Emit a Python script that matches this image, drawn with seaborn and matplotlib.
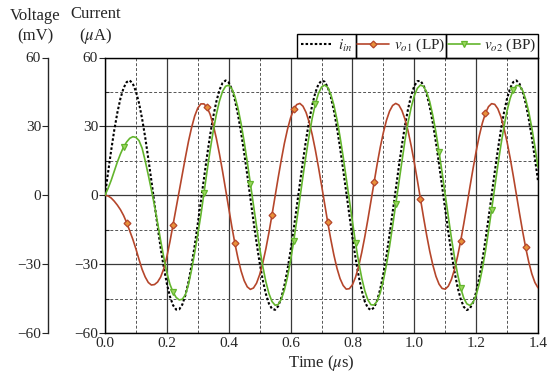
import numpy as np
import matplotlib
matplotlib.use("Agg")
import matplotlib.pyplot as plt
import seaborn as sns
from matplotlib.lines import Line2D
from matplotlib.patches import Rectangle
from matplotlib.ticker import FormatStrFormatter

# sample times (us), one every 0.01 us
time_us = np.linspace(0.0, 1.4, 141)

# input current (uA)
i_in = [0.0, 10.0, 19.6, 28.4, 36.0, 42.2, 46.7, 49.3, 50.0, 48.6,
        45.2, 40.1, 33.3, 25.2, 16.0, 6.3, -3.8, -13.6, -23.0, -31.4,
        -38.5, -44.1, -47.9, -49.8, -49.7, -47.6, -43.5, -37.7, -30.4, -21.9,
        -12.4, -2.5, 7.5, 17.2, 26.3, 34.2, 40.8, 45.8, 48.9, 50.0,
        49.1, 46.3, 41.5, 35.1, 27.3, 18.4, 8.8, -1.3, -11.2, -20.7,
        -29.4, -36.9, -42.9, -47.2, -49.5, -49.9, -48.3, -44.7, -39.3, -32.4,
        -24.1, -14.9, -5.0, 5.0, 14.9, 24.1, 32.4, 39.3, 44.7, 48.3,
        49.9, 49.5, 47.1, 42.9, 36.9, 29.4, 20.7, 11.2, 1.3, -8.8,
        -18.4, -27.3, -35.1, -41.5, -46.3, -49.1, -50.0, -48.9, -45.8, -40.8,
        -34.2, -26.3, -17.2, -7.5, 2.5, 12.4, 21.9, 30.4, 37.7, 43.5,
        47.6, 49.7, 49.8, 47.9, 44.1, 38.5, 31.4, 23.0, 13.6, 3.8,
        -6.3, -16.0, -25.2, -33.3, -40.1, -45.2, -48.6, -50.0, -49.3, -46.7,
        -42.2, -36.0, -28.4, -19.6, -10.0, 0.0, 10.0, 19.6, 28.4, 36.0,
        42.2, 46.7, 49.3, 50.0, 48.6, 45.2, 40.1, 33.3, 25.2, 16.0,
        6.3]

# low-pass output (mV)
v_o1 = [0.0, -0.3, -1.2, -2.6, -4.3, -6.3, -8.8, -11.9, -15.5, -19.2,
        -23.4, -28.0, -32.3, -35.6, -38.0, -39.1, -38.9, -37.8, -35.6, -32.0,
        -26.8, -20.2, -12.8, -5.3, 2.0, 9.2, 16.5, 23.5, 29.5, 34.5,
        38.0, 39.8, 39.8, 38.3, 35.2, 30.6, 24.8, 18.0, 10.5, 2.4,
        -5.7, -13.6, -21.0, -27.5, -33.0, -37.2, -39.9, -41.0, -40.4, -38.3,
        -34.6, -29.6, -23.4, -16.3, -8.5, -0.4, 7.7, 15.4, 22.6, 28.7,
        33.7, 37.4, 39.5, 40.0, 38.8, 36.1, 31.9, 26.4, 19.8, 12.4,
        4.5, -3.7, -11.7, -19.2, -26.0, -31.8, -36.3, -39.3, -40.9, -40.7,
        -39.0, -35.7, -31.0, -25.0, -18.1, -10.5, -2.4, 5.7, 13.6, 20.9,
        27.3, 32.6, 36.6, 39.1, 40.0, 39.3, 36.9, 33.1, 27.9, 21.5,
        14.3, 6.5, -1.6, -9.7, -17.4, -24.4, -30.4, -35.3, -38.7, -40.6,
        -40.9, -39.6, -36.7, -32.3, -26.6, -19.9, -12.4, -4.5, 3.7, 11.6,
        19.1, 25.8, 31.4, 35.7, 38.6, 39.9, 39.6, 37.7, 34.2, 29.3,
        23.2, 16.2, 8.5, 0.4, -7.7, -15.5, -22.7, -29.0, -34.2, -38.0,
        -40.3]

# band-pass output (mV)
v_o2 = [0.0, 3.0, 6.5, 10.5, 14.5, 18.0, 21.0, 23.2, 24.8, 25.5,
        25.2, 23.8, 20.5, 15.0, 8.8, 2.3, -4.5, -12.0, -19.8, -27.0,
        -33.8, -38.8, -42.2, -44.5, -45.6, -45.3, -43.3, -38.8, -32.4, -25.0,
        -17.0, -8.6, 1.0, 10.5, 19.7, 28.0, 35.2, 41.0, 45.2, 47.5,
        47.9, 46.4, 43.0, 37.9, 31.2, 23.3, 14.5, 5.1, -4.6, -14.0,
        -22.9, -30.9, -37.6, -42.8, -46.3, -47.9, -47.6, -45.3, -41.3, -35.6,
        -28.4, -20.1, -11.0, -1.4, 8.2, 17.4, 26.0, 33.6, 39.7, 44.3,
        47.1, 48.0, 47.0, 44.0, 39.3, 33.0, 25.4, 16.8, 7.4, -2.2,
        -11.7, -20.8, -29.0, -36.0, -41.6, -45.6, -47.7, -47.8, -46.1, -42.5,
        -37.1, -30.3, -22.3, -13.3, -3.9, 5.8, 15.2, 24.0, 31.8, 38.3,
        43.3, 46.6, 48.0, 47.4, 44.9, 40.7, 34.7, 27.4, 19.0, 9.8,
        0.2, -9.3, -18.6, -27.0, -34.4, -40.4, -44.8, -47.3, -48.0, -46.7,
        -43.5, -38.6, -32.1, -24.4, -15.6, -6.3, 3.4, 12.9, 21.8, 29.9,
        36.8, 42.2, 45.9, 47.8, 47.7, 45.7, 41.9, 36.4, 29.4, 21.2,
        12.2]

# samples that carry a marker
o1_marks = [7, 22, 33, 42, 54, 61, 72, 87, 102, 115, 123, 136]
o2_marks = [6, 22, 32, 47, 61, 68, 81, 94, 108, 115, 125, 132]

x_ticks = [0.0, 0.2, 0.4, 0.6, 0.8, 1.0, 1.2, 1.4]
y_ticks = [-60, -30, 0, 30, 60]
labels = ["$i_{in}$", "$v_{o1}$ (LP)", "$v_{o2}$ (BP)"]

RED = "#b5462b"
GREEN = "#63b52d"

sns.set_style("white")
plt.rcParams["font.family"] = ["Liberation Serif", "DejaVu Serif"]
plt.rcParams["mathtext.fontset"] = "stix"

fig = plt.figure(figsize=(5.5, 3.75), dpi=100)
ax = fig.add_axes([105 / 550, 1 - 333 / 375, 433 / 550, 275.5 / 375])

# curves
sns.lineplot(x=time_us, y=i_in, ax=ax, color="black", lw=1.5, linestyle=(0, (1.2, 1.0)), zorder=3)
sns.lineplot(x=time_us, y=v_o1, ax=ax, color=RED, lw=1.2, marker="D", markevery=o1_marks,
             ms=3.5, mfc="#e8913a", mec=RED, mew=0.9, zorder=4)
sns.lineplot(x=time_us, y=v_o2, ax=ax, color=GREEN, lw=1.2, marker="v", markevery=o2_marks,
             ms=5, mfc="#9ad85e", mec=GREEN, mew=0.9, zorder=5)

ax.set_xlim(0, 1.4)
ax.set_ylim(-60, 60)
ax.set_xticks(x_ticks)
ax.set_xticks(np.arange(0.1, 1.4, 0.2), minor=True)
ax.set_yticks(y_ticks)
ax.set_yticks([-45, -15, 15, 45], minor=True)
ax.xaxis.set_major_formatter(FormatStrFormatter("%.1f"))
ax.tick_params(axis="x", which="both", length=0, pad=3, labelsize=11)
ax.tick_params(axis="y", which="major", direction="out", length=4, width=0.8, pad=1, labelsize=11, left=True)
ax.tick_params(axis="y", which="minor", direction="in", length=3, width=0.8, left=True)
ax.set_axisbelow(True)
ax.grid(which="major", color="#3a3a3a", lw=0.9, ls="-")
ax.grid(which="minor", color="#555555", lw=0.7, ls=(0, (3, 2)))
for s in ax.spines.values():
    s.set_color("black")
    s.set_linewidth(1.0)
ax.set_xlabel("Time ($\\mu$s)", fontsize=12, labelpad=2)
ax.set_ylabel("")

# voltage axis at far left
ax2 = ax.twinx()
ax2.set_ylim(-60, 60)
ax2.set_yticks(y_ticks)
ax2.yaxis.tick_left()
ax2.spines["left"].set_position(("axes", -57 / 433))
for s in ["right", "top", "bottom"]:
    ax2.spines[s].set_visible(False)
ax2.spines["left"].set_visible(True)
ax2.spines["left"].set_linewidth(1.0)
ax2.tick_params(axis="y", which="major", direction="out", length=4, width=0.8, pad=1, labelsize=11,
                left=True, right=False, labelleft=True, labelright=False)

fig.text(35 / 550, 1 - 26 / 375, "Voltage\n(mV)", ha="center", va="center", fontsize=12, linespacing=1.35)
fig.text(96 / 550, 1 - 26 / 375, "Current\n($\\mu$A)", ha="center", va="center", fontsize=12, linespacing=1.35)

# legend in three boxed cells above the plot
handles = [
    Line2D([], [], color="black", lw=1.5, linestyle=(0, (1.2, 1.0))),
    Line2D([], [], color=RED, lw=1.2, marker="D", ms=3.5, mfc="#e8913a", mec=RED, mew=0.9),
    Line2D([], [], color=GREEN, lw=1.2, marker="v", ms=5, mfc="#9ad85e", mec=GREEN, mew=0.9),
]
cells = [(297, 356), (356, 446), (446, 538)]
y_top, y_bot = 34, 57.5
for (x0, x1), h, lab in zip(cells, handles, labels):
    box = (x0 / 550, 1 - y_bot / 375, (x1 - x0) / 550, (y_bot - y_top) / 375)
    fig.add_artist(Rectangle(box[:2], box[2], box[3], transform=fig.transFigure,
                             fill=False, ec="black", lw=1.0))
    fig.legend(handles=[h], labels=[lab], loc="center", bbox_to_anchor=box,
               bbox_transform=fig.transFigure, frameon=False, fontsize=11,
               handlelength=2.1, handletextpad=0.3, borderpad=0, borderaxespad=0)

fig.savefig("out.png", dpi=100)
